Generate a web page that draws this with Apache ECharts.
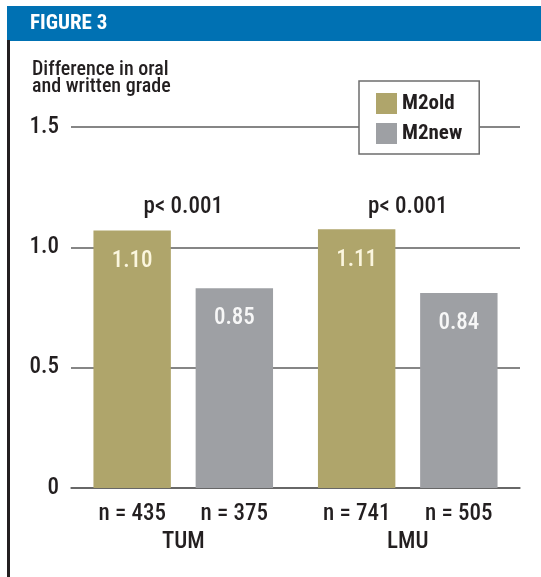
<!DOCTYPE html>
<html>
<head>
<meta charset="utf-8">
<script src="https://cdn.jsdelivr.net/npm/echarts@6/dist/echarts.min.js"></script>
<style>
  html, body { margin: 0; padding: 0; background: #ffffff; }
  #chart { width: 541px; height: 577px; }
</style>
</head>
<body>
<div id="chart"></div>
<script>
// ---- data ----
const categories = ['TUM', 'LMU'];
const seriesNames = ['M2old', 'M2new'];
// bar heights as drawn in the figure
const m2oldValues = [1.07, 1.075];
const m2newValues = [0.83, 0.81];
// value labels printed in the bars
const m2oldLabels = ['1.10', '1.11'];
const m2newLabels = ['0.85', '0.84'];
// sample sizes
const m2oldN = [435, 741];
const m2newN = [375, 505];
// significance labels per group
const pLabels = ['p< 0.001', 'p< 0.001'];
// y tick labels
const yTickLabels = ['0', '0.5', '1.0', '1.5'];

const FONT = '"Roboto Condensed", "Liberation Sans", sans-serif';
const TEXT = '#231f20';
const LINE = '#5e5e5e';
const W = 500;

const chart = echarts.init(document.getElementById('chart'));
chart.setOption({
  backgroundColor: '#ffffff',
  animation: false,
  textStyle: { fontFamily: FONT },
  graphic: [
    { type: 'rect', shape: { x: 7, y: 6, width: 534, height: 35 }, style: { fill: '#0071b3' } },
    { type: 'text', x: 30, y: 24, style: { text: 'FIGURE 3', fill: '#ffffff', fontFamily: FONT, fontWeight: 'bold', fontSize: 21, verticalAlign: 'middle' } },
    { type: 'rect', shape: { x: 7, y: 40, width: 3, height: 537 }, style: { fill: '#231f20' } }
  ],
  title: {
    text: 'Difference in oral\nand written grade',
    left: 32,
    top: 61,
    padding: 0,
    textStyle: { fontFamily: FONT, fontSize: 20, fontWeight: W, color: TEXT, lineHeight: 17.5 }
  },
  legend: {
    data: seriesNames,
    orient: 'vertical',
    left: 359,
    top: 81,
    itemWidth: 21,
    itemHeight: 21,
    itemGap: 9,
    icon: 'rect',
    padding: [12, 17, 10, 17],
    borderColor: '#6d6d6d',
    borderWidth: 1.5,
    backgroundColor: '#ffffff',
    textStyle: { fontFamily: FONT, fontSize: 21, fontWeight: 'bold', color: TEXT }
  },
  grid: { left: 71, right: 21, top: 127, bottom: 89, containLabel: false },
  xAxis: [
    {
      type: 'category',
      data: categories,
      position: 'bottom',
      axisLine: { show: true, lineStyle: { color: LINE, width: 1.5 } },
      axisTick: { show: false },
      axisLabel: {
        margin: 12,
        color: TEXT,
        formatter: (value, idx) => `{n|n = ${m2oldN[idx]}}{n|n = ${m2newN[idx]}}\n{c|${value}}`,
        rich: {
          n: { width: 102, align: 'center', fontSize: 23, fontWeight: W, lineHeight: 28, fontFamily: FONT, color: TEXT },
          c: { width: 204, align: 'center', fontSize: 23, fontWeight: W, lineHeight: 28, fontFamily: FONT, color: TEXT }
        }
      }
    },
    {
      type: 'category',
      data: pLabels,
      position: 'top',
      axisLine: { show: false },
      axisTick: { show: false },
      splitLine: { show: false },
      axisLabel: { margin: -92, fontSize: 23, fontWeight: W, color: TEXT, fontFamily: FONT }
    }
  ],
  yAxis: {
    type: 'value',
    min: 0,
    max: 1.5,
    interval: 0.5,
    axisLine: { show: false },
    axisTick: { show: false },
    splitLine: { show: true, lineStyle: { color: LINE, width: 1.5 } },
    axisLabel: {
      margin: 12,
      fontSize: 23,
      fontWeight: W,
      color: TEXT,
      fontFamily: FONT,
      formatter: (v) => yTickLabels[Math.round(v / 0.5)]
    }
  },
  series: [
    {
      name: seriesNames[0],
      type: 'bar',
      data: m2oldValues,
      barCategoryGap: '20%',
      barGap: '32%',
      itemStyle: { color: '#afa56b' },
      label: {
        show: true,
        position: 'insideTop',
        distance: 19,
        fontSize: 23,
        fontWeight: W,
        fontFamily: FONT,
        color: '#fbf6de',
        formatter: (p) => m2oldLabels[p.dataIndex]
      }
    },
    {
      name: seriesNames[1],
      type: 'bar',
      data: m2newValues,
      barCategoryGap: '20%',
      barGap: '32%',
      itemStyle: { color: '#9ea0a4' },
      label: {
        show: true,
        position: 'insideTop',
        distance: 19,
        fontSize: 23,
        fontWeight: W,
        fontFamily: FONT,
        color: '#f7f7f7',
        formatter: (p) => m2newLabels[p.dataIndex]
      }
    }
  ]
});
</script>
</body>
</html>
